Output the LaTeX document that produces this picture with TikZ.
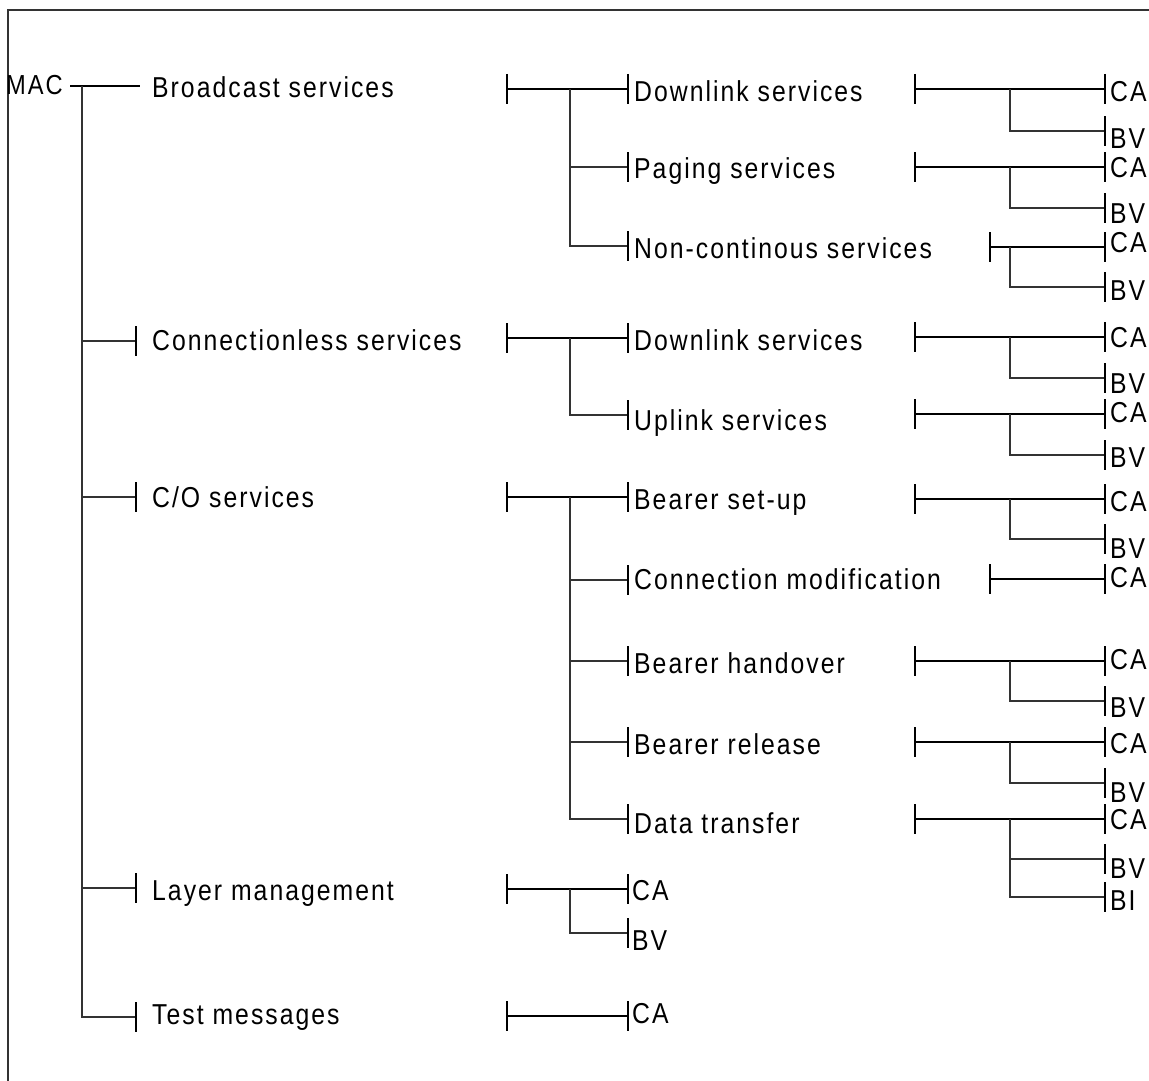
\documentclass[tikz,border=0pt]{standalone}
\usepackage{fontspec}
\setmainfont{Liberation Sans}[FakeStretch=0.86,LetterSpace=7]
\newcommand\lbfont{\fontsize{28.8}{32}\selectfont}
\newcommand\macfont{\fontsize{27.5}{30}\selectfont}
\newcommand\tk[1]{\draw[tickln] ([yshift=15pt]#1) -- ([yshift=-15pt]#1);}
% level-3 block with CA and BV leaves
\newcommand\cabv[6]{%
  \coordinate (#1-l) at (#2,#3);
  \coordinate (#1-j) at (1010,#3);
  \coordinate (#1-ca) at (1105,#3);
  \coordinate (#1-k) at (1010,#5);
  \coordinate (#1-bv) at (1105,#5);
  \draw[heavy] (#1-l) -- (#1-ca);
  \draw[light] (#1-j) -- (#1-k) -- (#1-bv);
  \tk{#1-l}\tk{#1-ca}\tk{#1-bv}
  \node[lbl] (#1-tca) at (1110,#4) {CA};
  \node[lbl] (#1-tbv) at (1110,#6) {BV};
}
\begin{document}
\begin{tikzpicture}[x=1pt,y=-1pt,
  heavy/.style={line width=2pt,draw=black},
  light/.style={line width=1.1pt,draw=black!80},
  medium/.style={line width=1.5pt,draw=black},
  tickln/.style={line width=2pt,draw=black},
  lbl/.style={anchor=base west,inner sep=0pt,font=\lbfont},
  framest/.style={line width=1.5pt,draw=black!80}]
\useasboundingbox (0,0) rectangle (1149,1081);
% frame
\coordinate (fbl) at (8,1081);
\coordinate (ftl) at (8,10);
\coordinate (ftr) at (1149,10);
\draw[framest] (fbl) -- (ftl) -- (ftr);

% ---------- level 1 ----------
\node[anchor=base west,inner sep=0pt,font=\macfont] (mac) at (6,95) {MAC};
\coordinate (macR) at (70,86);
\coordinate (bcE) at (140,86);
\coordinate (trTop) at (82,86);
\coordinate (trCL) at (82,341); \coordinate (tkCL) at (136,341);
\coordinate (trCO) at (82,497); \coordinate (tkCO) at (136,497);
\coordinate (trLM) at (82,888); \coordinate (tkLM) at (136,888);
\coordinate (trTM) at (82,1017); \coordinate (tkTM) at (136,1017);
\draw[medium] (macR) -- (bcE);
\draw[light] (trTop) -- (trTM) -- (tkTM);
\draw[light] (trCL) -- (tkCL);
\draw[light] (trCO) -- (tkCO);
\draw[light] (trLM) -- (tkLM);
\tk{tkCL}\tk{tkCO}\tk{tkLM}\tk{tkTM}
\node[lbl] (bc) at (152,98) {Broadcast services};
\node[lbl] (cl) at (152,350) {Connectionless services};
\node[lbl] (co) at (152,507) {C/O services};
\node[lbl] (lm) at (152,900) {Layer management};
\node[lbl] (tm) at (152,1024) {Test messages};

% ---------- level 2 ----------
% Broadcast
\coordinate (B-l) at (507,89); \coordinate (B-j) at (570,89);
\coordinate (B1) at (628,89);
\coordinate (B2j) at (570,167); \coordinate (B2) at (628,167);
\coordinate (B3j) at (570,246); \coordinate (B3) at (628,246);
\draw[heavy] (B-l) -- (B1);
\draw[light] (B-j) -- (B3j) -- (B3);
\draw[light] (B2j) -- (B2);
\tk{B-l}\tk{B1}\tk{B2}\tk{B3}
\node[lbl] (tB1) at (634,102) {Downlink services};
\node[lbl] (tB2) at (634,178) {Paging services};
\node[lbl] (tB3) at (634,258) {Non-continous services};
% Connectionless
\coordinate (C-l) at (507,338); \coordinate (C-j) at (570,338);
\coordinate (C1) at (628,338);
\coordinate (C2j) at (570,415); \coordinate (C2) at (628,415);
\draw[heavy] (C-l) -- (C1);
\draw[light] (C-j) -- (C2j) -- (C2);
\tk{C-l}\tk{C1}\tk{C2}
\node[lbl] (tC1) at (634,350) {Downlink services};
\node[lbl] (tC2) at (634,430) {Uplink services};
% C/O
\coordinate (O-l) at (507,497); \coordinate (O-j) at (570,497);
\coordinate (O1) at (628,497);
\coordinate (O2j) at (570,580); \coordinate (O2) at (628,580);
\coordinate (O3j) at (570,661); \coordinate (O3) at (628,661);
\coordinate (O4j) at (570,742); \coordinate (O4) at (628,742);
\coordinate (O5j) at (570,819); \coordinate (O5) at (628,819);
\draw[heavy] (O-l) -- (O1);
\draw[light] (O-j) -- (O5j) -- (O5);
\draw[light] (O2j) -- (O2);
\draw[light] (O3j) -- (O3);
\draw[light] (O4j) -- (O4);
\tk{O-l}\tk{O1}\tk{O2}\tk{O3}\tk{O4}\tk{O5}
\node[lbl] (tO1) at (634,509) {Bearer set-up};
\node[lbl] (tO2) at (634,589) {Connection modification};
\node[lbl] (tO3) at (634,673) {Bearer handover};
\node[lbl] (tO4) at (634,754) {Bearer release};
\node[lbl] (tO5) at (634,833) {Data transfer};
% Layer management
\coordinate (M-l) at (507,889); \coordinate (M-j) at (570,889);
\coordinate (M1) at (628,889);
\coordinate (M2j) at (570,933); \coordinate (M2) at (628,933);
\draw[heavy] (M-l) -- (M1);
\draw[light] (M-j) -- (M2j) -- (M2);
\tk{M-l}\tk{M1}\tk{M2}
\node[lbl] (tM1) at (632,900) {CA};
\node[lbl] (tM2) at (632,950) {BV};
% Test messages
\coordinate (T-l) at (507,1016); \coordinate (T1) at (628,1016);
\draw[heavy] (T-l) -- (T1);
\tk{T-l}\tk{T1}
\node[lbl] (tT1) at (632,1023) {CA};

% ---------- level 3 ----------
\cabv{d1}{915}{89}{102}{131}{148}
\cabv{p1}{915}{167}{177}{208}{223}
\cabv{n1}{990}{247}{252}{287}{300}
\cabv{d2}{915}{337}{347}{378}{393}
\cabv{u2}{915}{414}{422}{455}{467}
\cabv{s3}{915}{499}{511}{539}{558}
% connection modification
\coordinate (cm-l) at (990,579); \coordinate (cm-ca) at (1105,579);
\draw[heavy] (cm-l) -- (cm-ca);
\tk{cm-l}\tk{cm-ca}
\node[lbl] (cm-tca) at (1110,587) {CA};
\cabv{h3}{915}{661}{669}{701}{717}
\cabv{r3}{915}{742}{753}{783}{802}
\cabv{x3}{915}{819}{829}{859}{878}
\coordinate (x3-k2) at (1010,897); \coordinate (x3-bi) at (1105,897);
\draw[light] (x3-k) -- (x3-k2) -- (x3-bi);
\tk{x3-bi}
\node[lbl] (x3-tbi) at (1110,910) {BI};
\end{tikzpicture}
\end{document}
